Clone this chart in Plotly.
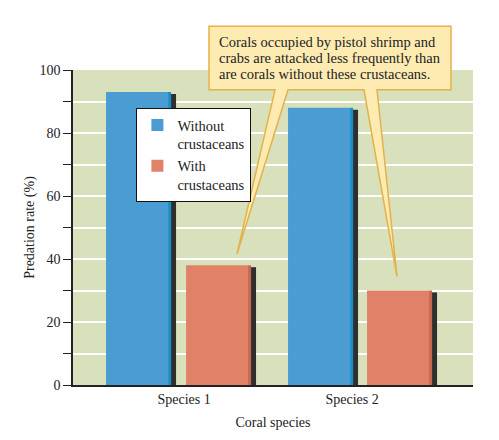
import plotly.graph_objects as go

species = ["Species 1", "Species 2"]
without_crust = [93, 88]
with_crust = [38, 30]

note_lines = ["Corals occupied by pistol shrimp and",
              "crabs are attacked less frequently than",
              "are corals without these crustaceans."]

FONT = "Liberation Serif"
BLUE, BLUE_EDGE = "#4b9cd3", "#1790c8"
RED, RED_EDGE = "#e08268", "#c9674e"
SIDE = "#2f2f2f"

# plot area geometry (px) -> bar offsets in category units
PX = 168.0
blue_start = [-78 / PX, -64 / PX]
red_start = [2 / PX, 15 / PX]
w_main, w_edge, w_side = 62 / PX, 3 / PX, 5 / PX


def add_bar(vals, start, color, edge, name):
    # dark side face, slightly lower than the front
    fig.add_trace(go.Bar(x=species, y=[v - 0.6 for v in vals], width=w_side,
                         offset=[s + w_main + w_edge for s in start],
                         marker=dict(color=SIDE, line_width=0),
                         showlegend=False, hoverinfo="skip"))
    fig.add_trace(go.Bar(x=species, y=vals, width=w_edge,
                         offset=[s + w_main for s in start],
                         marker=dict(color=edge, line_width=0),
                         showlegend=False, hoverinfo="skip"))
    fig.add_trace(go.Bar(x=species, y=vals, width=w_main, offset=start,
                         marker=dict(color=color, line_width=0), name=name))


fig = go.Figure()
add_bar(without_crust, blue_start, BLUE, BLUE_EDGE, "Without<br>crustaceans")
add_bar(with_crust, red_start, RED, RED_EDGE, "With<br>crustaceans")

# callout box with two pointers (paper coords)
callout = ("M 0.34,1.139 L 0.945,1.139 L 0.945,0.937 L 0.76,0.937 L 0.81,0.344 "
           "L 0.7275,0.937 L 0.5375,0.937 L 0.41,0.416 L 0.505,0.937 L 0.34,0.937 Z")
fig.add_shape(type="path", path=callout, xref="paper", yref="paper",
              fillcolor="#fdebb2", line=dict(color="#e3b24a", width=1.5), layer="above")
for i, line in enumerate(note_lines):
    fig.add_annotation(xref="paper", yref="paper", x=0.36, y=1.088 - 0.0505 * i,
                       xanchor="left", yanchor="middle", showarrow=False, text=line,
                       font=dict(family=FONT, size=14.5, color="#222"))

# the page body has an 8px margin, so the figure is 8px smaller than the window
fig.update_layout(
    width=491, height=432,
    margin=dict(l=65, r=26, t=62, b=53),
    barmode="overlay",
    paper_bgcolor="white",
    plot_bgcolor="#d8e0bc",
    font=dict(family=FONT, size=14, color="#222"),
    legend=dict(x=0.158, y=0.88, xanchor="left", yanchor="top", valign="top",
                bgcolor="white", bordercolor="#111", borderwidth=1.2,
                font=dict(family=FONT, size=14.5, color="#222"),
                itemwidth=30, tracegroupgap=2),
    xaxis=dict(range=[-0.661, 1.72], showline=True, linecolor="#222", linewidth=1.5,
               ticks="", showgrid=False,
               title=dict(text="Coral species", font=dict(size=14), standoff=12)),
    yaxis=dict(range=[0, 100], dtick=20, ticks="outside", ticklen=8, tickwidth=1.2,
               tickcolor="#222", showline=True, linecolor="#222", linewidth=1.5,
               showgrid=True, gridcolor="white", gridwidth=1.5, zeroline=False,
               automargin=True,
               minor=dict(dtick=10, ticks="outside", ticklen=8, tickcolor="#222",
                          showgrid=True, gridcolor="white", gridwidth=1.5),
               title=dict(text="Predation rate (%)", font=dict(size=14), standoff=2)),
)

fig.write_html("out.html")
